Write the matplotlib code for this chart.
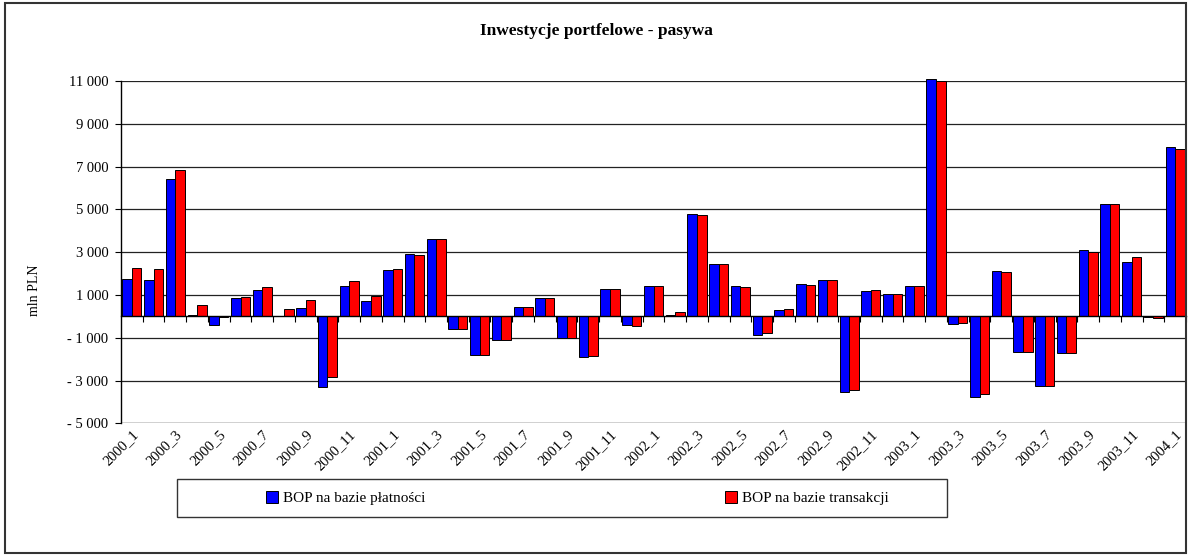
import matplotlib
matplotlib.use("Agg")
import matplotlib.pyplot as plt
import numpy as np
from matplotlib.patches import Rectangle, Patch
from matplotlib.ticker import FuncFormatter, FixedLocator

categories = [
    "2000_1", "2000_2", "2000_3", "2000_4", "2000_5", "2000_6", "2000_7", "2000_8",
    "2000_9", "2000_10", "2000_11", "2000_12",
    "2001_1", "2001_2", "2001_3", "2001_4", "2001_5", "2001_6", "2001_7", "2001_8",
    "2001_9", "2001_10", "2001_11", "2001_12",
    "2002_1", "2002_2", "2002_3", "2002_4", "2002_5", "2002_6", "2002_7", "2002_8",
    "2002_9", "2002_10", "2002_11", "2002_12",
    "2003_1", "2003_2", "2003_3", "2003_4", "2003_5", "2003_6", "2003_7", "2003_8",
    "2003_9", "2003_10", "2003_11", "2003_12",
    "2004_1",
]

bop_platnosci = [
    1750, 1700, 6400, 80, -400, 850, 1230, 0, 380, -3300, 1420, 720,
    2150, 2900, 3600, -580, -1800, -1100, 420, 840, -1000, -1900, 1270, -400,
    1400, 80, 4800, 2450, 1400, -850, 300, 1500, 1700, -3550, 1180, 1040,
    1400, 11100, -350, -3750, 2120, -1680, -3270, -1730, 3080, 5230, 2550, -20,
    7900,
]

bop_transakcji = [
    2250, 2200, 6850, 520, -40, 900, 1370, 340, 750, -2850, 1650, 950,
    2200, 2880, 3600, -580, -1800, -1100, 420, 840, -1000, -1850, 1270, -440,
    1400, 180, 4750, 2450, 1360, -800, 330, 1450, 1700, -3450, 1220, 1040,
    1400, 11000, -300, -3650, 2080, -1680, -3270, -1730, 3030, 5230, 2780, -100,
    7820,
]

series_names = ["BOP na bazie płatności", "BOP na bazie transakcji"]
series_colors = ["#0000FF", "#FF0000"]
title = "Inwestycje portfelowe - pasywa"
y_label = "mln PLN"
y_ticks = [-5000, -3000, -1000, 1000, 3000, 5000, 7000, 9000, 11000]

W, H = 1188, 556
plt.rcParams['font.family'] = ['Liberation Serif', 'DejaVu Serif']
fig = plt.figure(figsize=(W / 100, H / 100), dpi=100)

def fx(px):
    return px / W

def fy(py):
    return 1 - py / H

left, right, top, bottom = 121, 1186, 81, 423.3
ax = fig.add_axes([fx(left), fy(bottom), fx(right - left), fy(top) - fy(bottom)])

x = np.arange(len(categories))
bw = 0.44
ax.bar(x - bw / 2, bop_platnosci, width=bw, color=series_colors[0], edgecolor="black",
       linewidth=0.7, clip_on=False, zorder=3)
ax.bar(x + bw / 2, bop_transakcji, width=bw, color=series_colors[1], edgecolor="black",
       linewidth=0.7, clip_on=False, zorder=3)

ax.set_xlim(-0.5, len(categories) - 0.5)
ax.set_ylim(-5000, 11000)

ax.yaxis.set_major_locator(FixedLocator(y_ticks))

def yfmt(v, pos):
    s = f"{int(abs(v)):,}".replace(",", " ")
    return ("- " + s) if v < 0 else s

ax.yaxis.set_major_formatter(FuncFormatter(yfmt))
ax.yaxis.grid(True, color="#222222", linewidth=0.9, zorder=1)
ax.set_axisbelow(True)

for s in ["top", "right"]:
    ax.spines[s].set_visible(False)
ax.spines["left"].set_color("black")
ax.spines["left"].set_linewidth(1.0)
ax.spines["bottom"].set_position(("data", 0))
ax.spines["bottom"].set_color("black")
ax.spines["bottom"].set_linewidth(1.0)
ax.spines["bottom"].set_zorder(4)

label_pos = x[::2]
ax.set_xticks(label_pos)
ax.set_xticklabels([categories[i] for i in label_pos], rotation=45, ha="right",
                   rotation_mode="anchor", fontsize=10.5)
ax.set_xticks(np.arange(-0.5, len(categories), 1.0)[1:], minor=True)
ax.tick_params(axis="x", which="major", length=0, pad=80)
ax.tick_params(axis="x", which="minor", length=4, direction="out", width=0.8)
ax.tick_params(axis="y", which="major", length=4, direction="out", width=0.8,
               labelsize=10.5, pad=5)

ax.axhline(-5000, color="#888888", linewidth=1.0, zorder=2)

fig.text(fx(596), fy(31), title, ha="center", va="center", fontsize=12.5,
         fontweight="bold")
fig.text(fx(34), fy(290), y_label, ha="center", va="center", rotation=90,
         fontsize=10)

# legend box
fig.patches.append(Rectangle((fx(177), fy(517)), fx(947 - 177), fy(479) - fy(517),
                             transform=fig.transFigure, fill=False,
                             edgecolor="#333333", linewidth=1.0))
for name, col, xpx in zip(series_names, series_colors, [266, 725]):
    fig.legend([Patch(facecolor=col, edgecolor="black", linewidth=0.7)], [name],
               loc="center left", bbox_to_anchor=(fx(xpx), fy(498)), frameon=False,
               fontsize=11, handlelength=0.8, handleheight=0.8, handletextpad=0.3,
               borderpad=0, borderaxespad=0)

# outer frame
fig.patches.append(Rectangle((fx(5), fy(553)), fx(1186 - 5), fy(3) - fy(553),
                             transform=fig.transFigure, fill=False,
                             edgecolor="#333333", linewidth=1.5))

fig.savefig("out.png", dpi=100)
